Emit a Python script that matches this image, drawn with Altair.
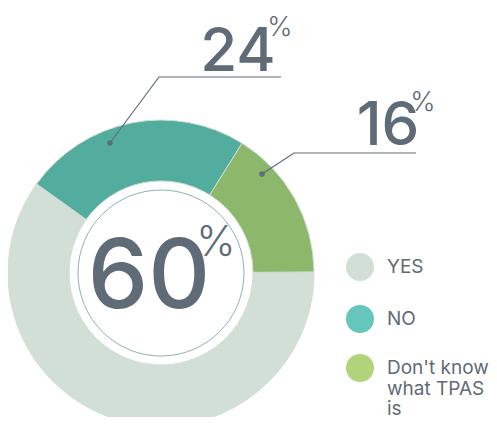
import math
import altair as alt
import pandas as pd

# ---------------- data ----------------
categories = ["YES", "NO", "Don't know what TPAS is"]
values = [60, 24, 16]
slice_colors = ["#d1dfd6", "#53ad9f", "#8db86b"]
legend_colors = ["#d1dfd6", "#66c6bc", "#b0d47c"]
clockwise_order = [2, 3, 1]  # drawn clockwise starting with "Don't know"
legend_labels = ["YES", "NO", "Don't know\nwhat TPAS\nis"]

# ---------------- layout ----------------
W, H = 481, 409
CX, CY = 153, 265
R_OUT, R_IN, R_RING = 153, 92, 83
START = math.radians(32)
TEXT = "#5f6b76"
FONT = "Inter"

big_layout = {
    "YES": dict(x=141, y=300, size=96, px=208, py=215, psize=42),
    "NO": dict(x=230, y=63, size=60, px=272, py=7, psize=27),
    "Don't know what TPAS is": dict(x=380, y=137, size=60, px=415, py=82, psize=27),
}
leader_layout = {
    "NO": [(102, 135), (151, 69), (273, 69)],
    "Don't know what TPAS is": [(254, 166), (286, 145), (408, 145)],
}
legend_x_dot, legend_x_text = 352, 379
legend_y = [259, 311, 360]

xs = alt.Scale(domain=[0, W], range=[0, W], nice=False, zero=False)
ys = alt.Scale(domain=[0, H], range=[0, H], nice=False, zero=False)
X = lambda f: alt.X(f, type="quantitative", scale=xs, axis=None)
Y = lambda f: alt.Y(f, type="quantitative", scale=ys, axis=None)

# ---------------- donut ----------------
pie_df = pd.DataFrame({"cat": categories, "val": values, "ord": clockwise_order})
donut = alt.Chart(pie_df).mark_arc(
    innerRadius=R_IN, outerRadius=R_OUT, stroke="#d1dfd6", strokeWidth=1
).encode(
    theta=alt.Theta("val:Q", stack=True,
                    scale=alt.Scale(domain=[0, 100], range=[START, START + 2 * math.pi])),
    color=alt.Color("cat:N", scale=alt.Scale(domain=categories, range=slice_colors), legend=None),
    order=alt.Order("ord:Q"),
    x=alt.value(CX),
    y=alt.value(CY),
)

ring = alt.Chart(pd.DataFrame({"r": [R_RING]})).mark_point(
    shape="circle", filled=False, stroke="#8fb3b1", strokeWidth=1,
    size=(2 * R_RING) ** 2, opacity=1
).encode(x=alt.value(CX), y=alt.value(CY))

# ---------------- leader lines ----------------
rows = []
for cat, pts in leader_layout.items():
    for i, (px, py) in enumerate(pts):
        rows.append({"cat": cat, "i": i, "x": px, "y": py})
lead_df = pd.DataFrame(rows)
leaders = alt.Chart(lead_df).mark_line(color=TEXT, strokeWidth=1.2).encode(
    x=X("x"), y=Y("y"), detail="cat:N", order="i:Q"
)
dots = alt.Chart(lead_df[lead_df["i"] == 0]).mark_circle(color=TEXT, size=30, opacity=1).encode(
    x=X("x"), y=Y("y")
)

# ---------------- value labels ----------------
lab_rows = []
for cat, v in zip(categories, values):
    L = big_layout[cat]
    lab_rows.append({"t": str(v), "x": L["x"], "y": L["y"], "s": L["size"],
                     "px": L["px"], "py": L["py"], "ps": L["psize"]})
lab_df = pd.DataFrame(lab_rows)
nums = alt.Chart(lab_df).mark_text(
    font=FONT, fontWeight=500, color=TEXT, align="center", baseline="alphabetic"
).encode(x=X("x"), y=Y("y"), text="t:N", size=alt.Size("s:Q", scale=None, legend=None))
pcts = alt.Chart(lab_df).mark_text(
    font=FONT, fontWeight=300, color=TEXT, align="center", baseline="top", text="%"
).encode(x=X("px"), y=Y("py"), size=alt.Size("ps:Q", scale=None, legend=None))

# ---------------- legend ----------------
leg_df = pd.DataFrame({"cat": categories, "lab": legend_labels,
                       "x0": [legend_x_dot] * 3, "x1": [legend_x_text] * 3, "y": legend_y})
leg_dots = alt.Chart(leg_df).mark_point(shape="circle", filled=True, size=28 ** 2, opacity=1).encode(
    x=X("x0"), y=Y("y"),
    color=alt.Color("cat:N", scale=alt.Scale(domain=categories, range=legend_colors), legend=None),
)
leg_text = alt.Chart(leg_df).mark_text(
    font=FONT, fontSize=19, color=TEXT, align="left", baseline="middle",
    lineBreak="\n", lineHeight=20.5
).encode(x=X("x1"), y=Y("y"), text="lab:N")

chart = alt.layer(
    donut, ring, leaders, dots, nums, pcts, leg_dots, leg_text
).resolve_scale(color="independent").properties(
    width=W, height=H, padding=0,
    autosize=alt.AutoSizeParams(type="none"),
    view=alt.ViewBackground(stroke="transparent", strokeWidth=0),
).configure_view(stroke="transparent", strokeWidth=0).configure_axis(
    disable=True
).configure(background="white")

chart.save("out.html", embed_options={"renderer": "svg", "actions": False})
